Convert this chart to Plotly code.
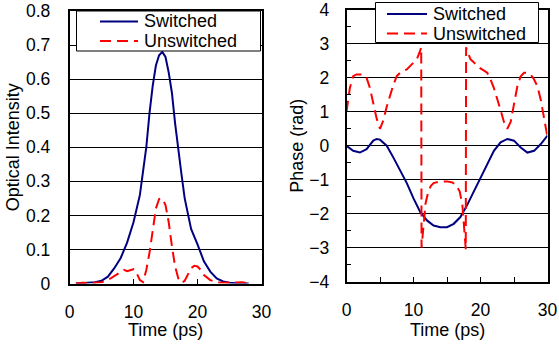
import plotly.graph_objects as go

# ---------------- data ----------------
series_names = ["Switched", "Unswitched"]

t_int_sw = [1, 2, 3, 4, 5, 6, 7, 8, 9, 10, 11, 11.5, 12, 12.5, 13, 13.5, 14, 14.5,
            15, 15.5, 16, 16.5, 17, 17.5, 18, 19, 20, 21, 22, 23, 24, 25, 26, 27, 28]
int_sw = [0, 0.001, 0.002, 0.004, 0.008, 0.02, 0.045, 0.075, 0.12, 0.18, 0.26, 0.33,
          0.40, 0.50, 0.58, 0.64, 0.67, 0.68, 0.665, 0.62, 0.56, 0.47, 0.39, 0.32,
          0.25, 0.16, 0.115, 0.065, 0.035, 0.015, 0.006, 0.002, 0.001, 0, 0]

t_int_un = [1, 2, 3, 4, 5, 6, 7, 8, 8.5, 9, 9.5, 10, 10.5, 11, 11.5, 12, 12.5, 13,
            13.5, 14, 14.5, 15, 15.5, 16, 16.5, 17, 17.5, 18, 18.5, 19, 19.5, 20,
            20.5, 21, 22, 23, 24, 25, 26, 27, 28]
int_un = [0, 0.002, 0.001, 0.002, 0.004, 0.01, 0.022, 0.035, 0.04, 0.036, 0.04,
          0.042, 0.03, 0.01, 0.004, 0.04, 0.09, 0.16, 0.22, 0.248, 0.25, 0.23, 0.18,
          0.11, 0.05, 0.015, 0.002, 0.008, 0.028, 0.045, 0.052, 0.05, 0.04, 0.025,
          0.01, 0.003, 0.002, 0.003, 0.005, 0.004, 0]

t_ph_sw = [0, 1, 2, 3, 4, 4.5, 5, 6, 7, 8, 9, 10, 11, 12, 13, 14, 15, 16, 17, 18,
           19, 20, 21, 22, 23, 24, 25, 26, 27, 28, 29, 30]
ph_sw = [0, -0.15, -0.2, -0.1, 0.15, 0.2, 0.18, 0.0, -0.35, -0.75, -1.1, -1.55,
         -1.95, -2.2, -2.35, -2.4, -2.4, -2.3, -2.1, -1.75, -1.35, -0.95, -0.55,
         -0.15, 0.1, 0.2, 0.15, -0.05, -0.2, -0.15, 0.05, 0.3]

t_ph_un = [0, 0.5, 1, 1.5, 2, 2.5, 3, 3.5, 4, 4.5, 5, 5.5, 6, 6.5, 7, 7.5, 8, 9,
           10, 10.5, 11, 11.15, 11.2, 11.5, 11.8, 12.2, 12.6, 13, 14, 15, 15.8,
           16.3, 16.9, 17.3, 17.6, 17.8, 17.85, 18, 18.5, 19, 20, 21, 21.5, 22,
           22.5, 23, 23.5, 24, 24.5, 25, 25.5, 26, 26.5, 27, 27.5, 28, 28.5, 29,
           29.5, 30]
ph_un = [1.0, 1.7, 2.05, 2.1, 2.1, 2.1, 2.0, 1.7, 1.25, 0.8, 0.5, 0.75, 1.15,
         1.5, 1.8, 2.05, 2.15, 2.25, 2.45, 2.55, 2.8, 2.9, -3.0, -2.3, -1.7,
         -1.35, -1.18, -1.1, -1.05, -1.05, -1.08, -1.15, -1.35, -1.75, -2.4,
         -3.05, 2.9, 2.8, 2.55, 2.45, 2.28, 2.15, 1.95, 1.7, 1.4, 1.05, 0.7, 0.5,
         0.7, 1.2, 1.75, 2.05, 2.15, 2.15, 2.1, 1.95, 1.75, 1.35, 0.75, 0.25]

int_ticks = [0, 0.1, 0.2, 0.3, 0.4, 0.5, 0.6, 0.7, 0.8]
int_ticklabels = ["0", "0.1", "0.2", "0.3", "0.4", "0.5", "0.6", "0.7", "0.8"]
ph_ticks = [-4, -3, -2, -1, 0, 1, 2, 3, 4]
time_ticks = [0, 10, 20, 30]

# ---------------- style ----------------
W, H = 559, 349
FONT = "Liberation Sans, Arial, sans-serif"
FS = 17.5
FSL = 18
BLUE = "#000080"
RED = "#FF0000"
DASH = "11px,6px"


def px(v):
    return v / W


def py(v):
    return 1 - v / H


fig = go.Figure()
fig.add_trace(go.Scatter(x=t_int_sw, y=int_sw, mode="lines", name=series_names[0],
                         line=dict(color=BLUE, width=2), xaxis="x", yaxis="y",
                         showlegend=False))
fig.add_trace(go.Scatter(x=t_int_un, y=int_un, mode="lines", name=series_names[1],
                         line=dict(color=RED, width=2, dash=DASH), xaxis="x", yaxis="y",
                         showlegend=False))
fig.add_trace(go.Scatter(x=t_ph_sw, y=ph_sw, mode="lines", name=series_names[0],
                         line=dict(color=BLUE, width=2), xaxis="x2", yaxis="y2",
                         showlegend=False))
fig.add_trace(go.Scatter(x=t_ph_un, y=ph_un, mode="lines", name=series_names[1],
                         line=dict(color=RED, width=2, dash=DASH), xaxis="x2", yaxis="y2",
                         showlegend=False))

# plot areas (pixels)
L1, R1, T1, B1 = 69.5, 261.5, 11, 283.5
L2, R2, T2, B2 = 346.5, 547.5, 10, 281.5

axis_common = dict(showline=True, linecolor="black", linewidth=1.5, mirror=True,
                   zeroline=False, automargin=False,
                   tickfont=dict(family=FONT, size=FS, color="black"))

fig.update_layout(
    width=W, height=H, margin=dict(l=0, r=0, t=0, b=0),
    paper_bgcolor="white", plot_bgcolor="white",
    font=dict(family=FONT, size=FS, color="black"),
    xaxis=dict(domain=[px(L1), px(R1)], range=[0, 30], tickvals=time_ticks,
               ticks="inside", ticklen=5, tickcolor="black", showgrid=False,
               anchor="y", ticklabelstandoff=12, **axis_common),
    yaxis=dict(domain=[py(B1), py(T1)], range=[0, 0.8], tickvals=int_ticks,
               ticktext=int_ticklabels, ticks="", showgrid=True, gridcolor="black",
               gridwidth=1, anchor="x", ticklabelstandoff=14, **axis_common),
    xaxis2=dict(domain=[px(L2), px(R2)], range=[0, 30], tickvals=time_ticks,
                ticks="inside", ticklen=5, tickcolor="black", showgrid=False,
                minor=dict(dtick=5, ticks="inside", ticklen=5, tickcolor="black"),
                anchor="y2", ticklabelstandoff=12, **axis_common),
    yaxis2=dict(domain=[py(B2), py(T2)], range=[-4, 4], tickvals=ph_ticks,
                ticks="inside", ticklen=5, tickcolor="black", showgrid=True,
                gridcolor="black", gridwidth=1,
                minor=dict(dtick=0.5, ticks="inside", ticklen=5, tickcolor="black"),
                anchor="x2", ticklabelstandoff=12, **axis_common),
)

# axis titles
ann = []
ann.append(dict(text="Time (ps)", x=px((L1 + R1) / 2), y=py(330), xref="paper",
                yref="paper", showarrow=False, xanchor="center", yanchor="middle",
                font=dict(family=FONT, size=FSL)))
ann.append(dict(text="Time (ps)", x=px((L2 + R2) / 2), y=py(330), xref="paper",
                yref="paper", showarrow=False, xanchor="center", yanchor="middle",
                font=dict(family=FONT, size=FSL)))
ann.append(dict(text="Optical Intensity", x=px(13), y=py((T1 + B1) / 2), xref="paper",
                yref="paper", showarrow=False, xanchor="center", yanchor="middle",
                textangle=-90, font=dict(family=FONT, size=FSL)))
ann.append(dict(text="Phase (rad)", x=px(297), y=py((T2 + B2) / 2), xref="paper",
                yref="paper", showarrow=False, xanchor="center", yanchor="middle",
                textangle=-90, font=dict(family=FONT, size=FSL)))

# legends (box, line samples, labels)
shapes = []
legends = [
    dict(box=(76.5, 11, 260.5, 51), line=(100, 138), text_x=143, rows=(21.5, 41)),
    dict(box=(375.5, 2.5, 538.5, 42.5), line=(387, 427), text_x=432, rows=(14, 33.5)),
]
for lg in legends:
    x0, y0, x1, y1 = lg["box"]
    shapes.append(dict(type="rect", xref="paper", yref="paper", x0=px(x0), x1=px(x1),
                       y0=py(y1), y1=py(y0), fillcolor="white",
                       line=dict(color="black", width=1), layer="above"))
    for name, color, dash, ry in zip(series_names, [BLUE, RED], ["solid", DASH], lg["rows"]):
        shapes.append(dict(type="line", xref="paper", yref="paper",
                           x0=px(lg["line"][0]), x1=px(lg["line"][1]),
                           y0=py(ry), y1=py(ry), layer="above",
                           line=dict(color=color, width=2, dash=dash)))
        ann.append(dict(text=name, x=px(lg["text_x"]), y=py(ry), xref="paper",
                        yref="paper", showarrow=False, xanchor="left", yanchor="middle",
                        height=18, valign="middle", borderpad=0,
                        font=dict(family=FONT, size=FSL)))

fig.update_layout(annotations=ann, shapes=shapes)
fig.write_html("out.html")
